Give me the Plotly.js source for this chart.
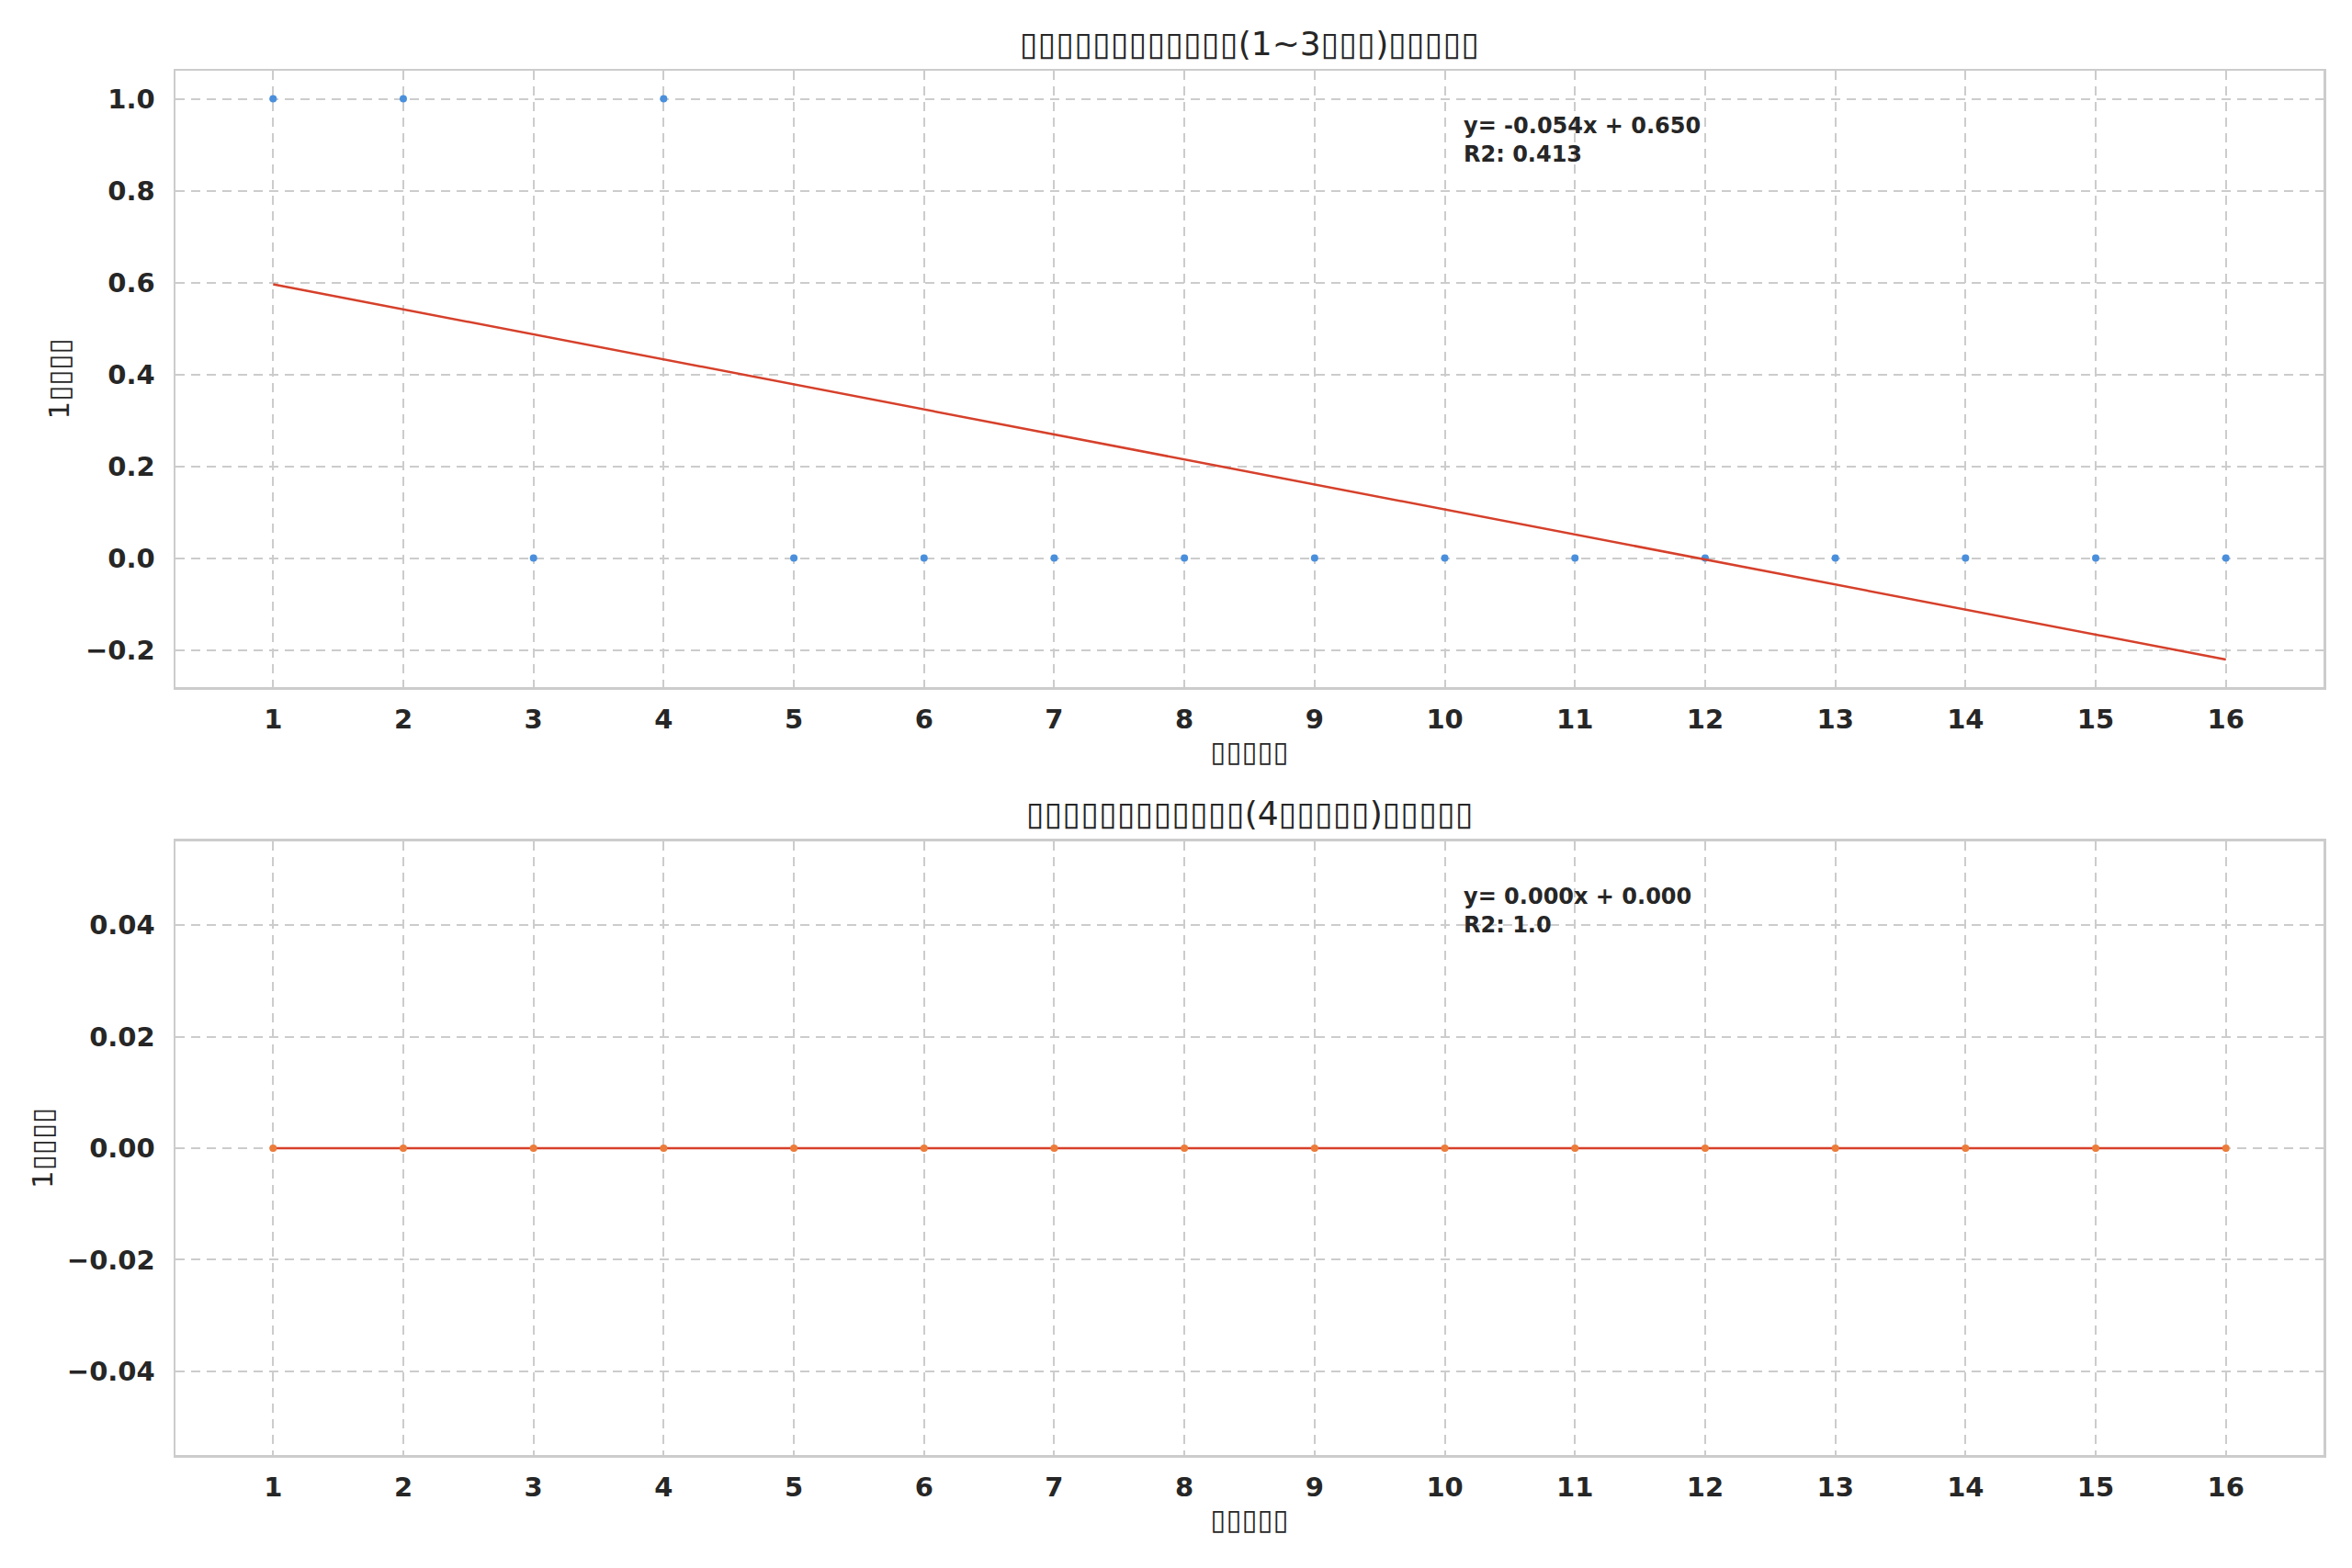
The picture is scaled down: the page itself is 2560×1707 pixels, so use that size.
<!DOCTYPE html>
<html>
<head>
<meta charset="utf-8">
<script src="https://cdn.plot.ly/plotly-3.0.1.min.js"></script>
<style>
  html, body { margin: 0; padding: 0; background: #fff; }
  #chart { width: 2560px; height: 1707px; }
</style>
</head>
<body>
<div id="chart"></div>
<script>
  "use strict";

  // Glyphs that did not render in the source come out as empty boxes.
  const BOX = "\u25AF";
  const boxes = (n) => BOX.repeat(n);

  // Data
  const rounds = [1, 2, 3, 4, 5, 6, 7, 8, 9, 10, 11, 12, 13, 14, 15, 16];
  const topValues = [1, 1, 0, 1, 0, 0, 0, 0, 0, 0, 0, 0, 0, 0, 0, 0];
  const bottomValues = [0, 0, 0, 0, 0, 0, 0, 0, 0, 0, 0, 0, 0, 0, 0, 0];
  const topFitX = [1, 16];
  const topFitY = [0.596, -0.221];
  const bottomFitX = [1, 16];
  const bottomFitY = [0, 0];
  const topTickVals = [-0.2, 0, 0.2, 0.4, 0.6, 0.8, 1.0];
  const bottomTickVals = [-0.04, -0.02, 0, 0.02, 0.04];

  const topTitle = boxes(12) + "(1~3" + boxes(3) + ")" + boxes(5);
  const bottomTitle = boxes(12) + "(4" + boxes(5) + ")" + boxes(5);
  const xLabel = boxes(5);
  const yLabel = "1" + boxes(4);
  const topNote = "y= -0.054x + 0.650<br>R2: 0.413";
  const bottomNote = "y= 0.000x + 0.000<br>R2: 1.0";

  const FONT = "DejaVu Sans, sans-serif";
  const INK = "#262626";
  const GRID = "#cccccc";
  const BLUE = "#4a8fdc";
  const ORANGE = "#ec7c3a";
  const RED = "#d6402b";

  function xAxis(anchor) {
    return {
      anchor,
      range: [0.25, 16.75],
      tickvals: rounds,
      ticks: "",
      ticklabelstandoff: 8,
      tickfont: { family: FONT, size: 29, color: INK, weight: "bold" },
      showgrid: true, gridcolor: GRID, gridwidth: 2, griddash: "10px,7px",
      zeroline: false,
      showline: true, mirror: true, linecolor: GRID, linewidth: 2.5,
      title: { text: xLabel, font: { family: FONT, size: 31, color: INK }, standoff: 8 },
    };
  }

  function yAxis(anchor, domain, range, tickvals, fmt, standoff) {
    return {
      anchor, domain, range, tickvals,
      tickformat: fmt,
      ticks: "",
      ticklabelstandoff: 14,
      tickfont: { family: FONT, size: 29, color: INK, weight: "bold" },
      showgrid: true, gridcolor: GRID, gridwidth: 2, griddash: "10px,7px",
      zeroline: false,
      showline: true, mirror: true, linecolor: GRID, linewidth: 2.5,
      title: { text: yLabel, font: { family: FONT, size: 31, color: INK }, standoff },
    };
  }

  const traces = [
    { type: "scatter", mode: "markers", x: rounds, y: topValues, xaxis: "x", yaxis: "y",
      marker: { color: BLUE, size: 8 } },
    { type: "scatter", mode: "lines", x: topFitX, y: topFitY, xaxis: "x", yaxis: "y",
      line: { color: RED, width: 2.5 } },
    { type: "scatter", mode: "lines", x: bottomFitX, y: bottomFitY, xaxis: "x2", yaxis: "y2",
      line: { color: RED, width: 2.5 } },
    { type: "scatter", mode: "markers", x: rounds, y: bottomValues, xaxis: "x2", yaxis: "y2",
      marker: { color: ORANGE, size: 8 } },
  ];

  const note = (text, xref, yref) => ({
    text, xref, yref, x: 0.599, y: 0.934, xanchor: "left", yanchor: "top", align: "left",
    showarrow: false, font: { family: FONT, size: 24, color: INK, weight: "bold" },
  });
  const heading = (text, y) => ({
    text, xref: "paper", yref: "paper", x: 0.5, y, xanchor: "center", yanchor: "middle",
    showarrow: false, font: { family: FONT, size: 36, color: INK },
  });

  const layout = {
    width: 2560, height: 1707,
    paper_bgcolor: "#ffffff", plot_bgcolor: "#ffffff",
    margin: { l: 191, r: 31, t: 77, b: 123 },
    showlegend: false,
    font: { family: FONT, color: INK },
    xaxis: xAxis("y"),
    yaxis: yAxis("x", [0.5547, 1], [-0.281, 1.061], topTickVals, ".1f", 8),
    xaxis2: xAxis("y2"),
    yaxis2: yAxis("x2", [0, 0.4433], [-0.055, 0.055], bottomTickVals, ".2f", 6),
    annotations: [
      heading(topTitle, 1.0196),
      heading(bottomTitle, 0.4635),
      note(topNote, "x domain", "y domain"),
      note(bottomNote, "x2 domain", "y2 domain"),
    ],
  };

  Plotly.newPlot("chart", traces, layout, { staticPlot: true, displaylogo: false });
</script>
</body>
</html>
